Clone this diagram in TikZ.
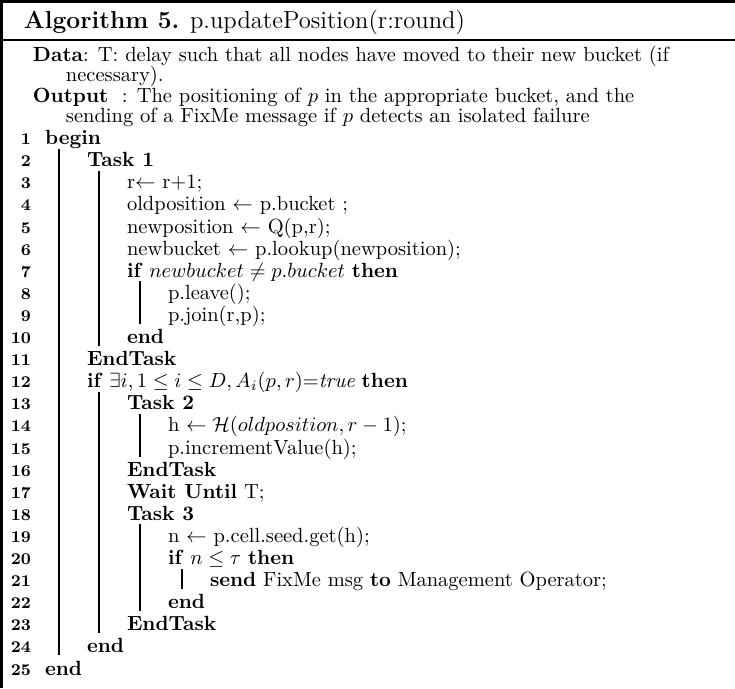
\documentclass[tikz,border=0pt]{standalone}
\usepackage{amsmath}
\begin{document}
\begin{tikzpicture}[x=0.4878pt, y=-0.4878pt,
  txt/.style={anchor=base west, inner sep=0pt, outer sep=0pt, font=\normalsize},
  ttl/.style={anchor=base west, inner sep=0pt, outer sep=0pt, font=\large},
  lno/.style={anchor=base east, inner sep=0pt, outer sep=0pt, font=\footnotesize\bfseries},
  vbar/.style={line width=1.35pt},
  rule/.style={line width=1.3pt}]
\useasboundingbox (0,0) rectangle (735,688);

% frame of the algorithm box
\draw[rule] (0,1.3) -- (735,1.3);
\draw[rule] (0,40) -- (735,40);
\draw[rule] (1.3,0) -- (1.3,688);

% caption
\node[ttl] (title) at (24,28) {\textbf{Algorithm 5.} p.updatePosition(r:round)};

% input / output description
\node[txt] (data1) at (33,61) {\textbf{Data}: T: delay such that all nodes have moved to their new bucket (if};
\node[txt] (data2) at (66,81.5) {necessary).};
\node[txt] (out1) at (33,102) {\textbf{Output}\ \ : The positioning of $p$ in the appropriate bucket, and the};
\node[txt] (out2) at (66,122) {sending of a FixMe message if $p$ detects an isolated failure};

% line numbers
\foreach \k in {1,...,25}{
  \node[lno] (n\k) at (31,{144.6+(\k-1)*22.1}) {\k};
}

% algorithm body
\node[txt] (l1)  at (45,144.6) {\textbf{begin}};
\node[txt] (l2)  at (87,166.7) {\textbf{Task 1}};
\node[txt] (l3)  at (127,188.8) {r$\leftarrow$ r+1;};
\node[txt] (l4)  at (127,210.9) {oldposition $\leftarrow$ p.bucket ;};
\node[txt] (l5)  at (127,233.0) {newposition $\leftarrow$ Q(p,r);};
\node[txt] (l6)  at (127,255.1) {newbucket $\leftarrow$ p.lookup(newposition);};
\node[txt] (l7)  at (127,277.2) {\textbf{if} $newbucket \neq p.bucket$ \textbf{then}};
\node[txt] (l8)  at (168,299.3) {p.leave();};
\node[txt] (l9)  at (168,321.4) {p.join(r,p);};
\node[txt] (l10) at (127,343.5) {\textbf{end}};
\node[txt] (l11) at (87,365.6) {\textbf{EndTask}};
\node[txt] (l12) at (87,387.7) {\textbf{if} $\exists i, 1 \leq i \leq D, A_i(p,r)$=\textit{true} \textbf{then}};
\node[txt] (l13) at (127,409.8) {\textbf{Task 2}};
\node[txt] (l14) at (168,431.9) {h $\leftarrow \mathcal{H}(oldposition, r-1)$;};
\node[txt] (l15) at (168,454.0) {p.incrementValue(h);};
\node[txt] (l16) at (127,476.1) {\textbf{EndTask}};
\node[txt] (l17) at (127,498.2) {\textbf{Wait Until} T;};
\node[txt] (l18) at (127,520.3) {\textbf{Task 3}};
\node[txt] (l19) at (168,542.4) {n $\leftarrow$ p.cell.seed.get(h);};
\node[txt] (l20) at (168,564.5) {\textbf{if} $n \leq \tau$ \textbf{then}};
\node[txt] (l21) at (210,586.6) {\textbf{send} FixMe msg \textbf{to} Management Operator;};
\node[txt] (l22) at (168,608.7) {\textbf{end}};
\node[txt] (l23) at (127,630.8) {\textbf{EndTask}};
\node[txt] (l24) at (87,652.9) {\textbf{end}};
\node[txt] (l25) at (45,675.0) {\textbf{end}};

% block bars
\draw[vbar] (59,148.6) -- (59,655.4);   % begin ... end
\draw[vbar] (99,170.7) -- (99,346.0);   % Task 1
\draw[vbar] (140,281.2) -- (140,323.9); % if newbucket
\draw[vbar] (99,391.7) -- (99,633.3);   % if exists
\draw[vbar] (140,413.8) -- (140,456.5); % Task 2
\draw[vbar] (140,524.3) -- (140,611.2); % Task 3
\draw[vbar] (182,568.5) -- (182,589.1); % if n <= tau
\end{tikzpicture}
\end{document}
